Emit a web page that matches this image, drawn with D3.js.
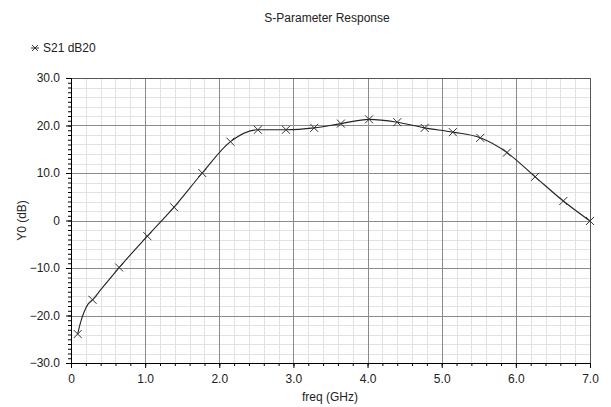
<!DOCTYPE html>
<html lang="en">
<head>
	<meta charset="UTF-8"/>
	<title>S-Parameter Response</title>
	<script src="https://d3js.org/d3.v7.min.js"></script>
	<style>
		body { margin: 0; background: #fff; }
		text { font-family: "Liberation Sans", Arial, sans-serif; }
		.tick text { font-size: 12px; fill: #222; }
		.grid-minor { stroke: #e2e2e2; stroke-width: 1; }
		.grid-major { stroke: #8a8a8a; stroke-width: 1; }
		.curve { fill: none; stroke: #222; stroke-width: 1.1; }
		.mark { stroke: #333; stroke-width: 1; }
	</style>
</head>
<body>
	<div id="chart"></div>
	<script>
	var w = 611;
	var h = 407;

	// marker points (GHz, dB)
	var markerFreq = [0.09, 0.29, 0.65, 1.03, 1.39, 1.77, 2.15, 2.52, 2.90, 3.28, 3.64, 4.02, 4.40, 4.77, 5.15, 5.52, 5.88, 6.26, 6.64, 7.0];
	var markerDb   = [-23.9, -16.7, -9.9, -3.3, 2.8, 10.0, 16.6, 19.1, 19.1, 19.5, 20.4, 21.3, 20.7, 19.5, 18.6, 17.4, 14.3, 9.2, 4.1, -0.1];

	// extra samples of the trace between the first markers
	var extraFreq = [0.13, 0.175, 0.23, 0.41];
	var extraDb   = [-21.4, -19.3, -17.6, -14.4];

	var xTicks = [0, 1, 2, 3, 4, 5, 6, 7];
	var yTicks = [-30, -20, -10, 0, 10, 20, 30];

	var svg = d3.select("#chart")
				.append("svg")
				.attr("width", w)
				.attr("height", h);

	var xScale = d3.scaleLinear().domain([0, 7]).range([71, 590]);
	var yScale = d3.scaleLinear().domain([-30, 30]).range([363, 78]);

	// minor grid
	svg.append("g").selectAll("line")
		.data(d3.range(0, 7.001, 0.2).filter(function(v){ return Math.abs(v - Math.round(v)) > 0.01; }))
		.enter().append("line")
		.attr("class", "grid-minor")
		.attr("x1", function(d){ return Math.round(xScale(d)) + 0.5; })
		.attr("x2", function(d){ return Math.round(xScale(d)) + 0.5; })
		.attr("y1", yScale(30)).attr("y2", yScale(-30));

	svg.append("g").selectAll("line")
		.data(d3.range(-30, 30.001, 2).filter(function(v){ return v % 10 != 0; }))
		.enter().append("line")
		.attr("class", "grid-minor")
		.attr("y1", function(d){ return Math.round(yScale(d)) + 0.5; })
		.attr("y2", function(d){ return Math.round(yScale(d)) + 0.5; })
		.attr("x1", xScale(0)).attr("x2", xScale(7));

	// major grid
	svg.append("g").selectAll("line")
		.data(xTicks.slice(1, -1))
		.enter().append("line")
		.attr("class", "grid-major")
		.attr("x1", function(d){ return Math.round(xScale(d)) + 0.5; })
		.attr("x2", function(d){ return Math.round(xScale(d)) + 0.5; })
		.attr("y1", yScale(30)).attr("y2", yScale(-30));

	svg.append("g").selectAll("line")
		.data(yTicks.slice(1, -1))
		.enter().append("line")
		.attr("class", "grid-major")
		.attr("y1", function(d){ return Math.round(yScale(d)) + 0.5; })
		.attr("y2", function(d){ return Math.round(yScale(d)) + 0.5; })
		.attr("x1", xScale(0)).attr("x2", xScale(7));

	// frame
	svg.append("rect")
		.attr("x", Math.round(xScale(0)) + 0.5)
		.attr("y", Math.round(yScale(30)) + 0.5)
		.attr("width", Math.round(xScale(7)) - Math.round(xScale(0)))
		.attr("height", Math.round(yScale(-30)) - Math.round(yScale(30)))
		.attr("fill", "none")
		.attr("stroke", "#555");

	function fmt(d){ return d == 0 ? "0" : d3.format(".1f")(d); }

	// axes
	var xMinor = d3.axisBottom(xScale).tickValues(d3.range(0, 7.001, 0.2)).tickSize(3).tickFormat("");
	var yMinor = d3.axisLeft(yScale).tickValues(d3.range(-30, 30.001, 1)).tickSize(3).tickFormat("");
	var xAxis = d3.axisBottom(xScale).tickValues(xTicks).tickSize(5).tickPadding(6).tickFormat(fmt);
	var yAxis = d3.axisLeft(yScale).tickValues(yTicks).tickSize(5).tickPadding(6).tickFormat(fmt);

	[xMinor, xAxis].forEach(function(a){
		svg.append("g")
			.attr("transform", "translate(0," + Math.round(yScale(-30)) + ")")
			.call(a)
			.call(function(g){ g.select(".domain").attr("stroke", "#000"); g.selectAll("text").attr("font-family", null); });
	});
	[yMinor, yAxis].forEach(function(a){
		svg.append("g")
			.attr("transform", "translate(" + Math.round(xScale(0)) + ",0)")
			.call(a)
			.call(function(g){ g.select(".domain").attr("stroke", "#000"); g.selectAll("text").attr("font-family", null); });
	});

	// trace
	var pts = markerFreq.map(function(f, i){ return [f, markerDb[i]]; })
		.concat(extraFreq.map(function(f, i){ return [f, extraDb[i]]; }))
		.sort(function(a, b){ return a[0] - b[0]; });

	var line = d3.line()
		.x(function(d){ return xScale(d[0]); })
		.y(function(d){ return yScale(d[1]); })
		.curve(d3.curveMonotoneX);

	svg.append("path")
		.datum(pts)
		.attr("class", "curve")
		.attr("d", line);

	svg.append("g").selectAll("path")
		.data(markerFreq)
		.enter().append("path")
		.attr("class", "mark")
		.attr("fill", "none")
		.attr("d", function(d, i){
			var x = xScale(d), y = yScale(markerDb[i]), s = 4;
			return "M" + (x - s) + "," + (y - s) + "L" + (x + s) + "," + (y + s) +
				"M" + (x - s) + "," + (y + s) + "L" + (x + s) + "," + (y - s);
		});

	// title, legend, axis labels
	svg.append("text")
		.attr("x", 327).attr("y", 22)
		.attr("text-anchor", "middle")
		.style("font-size", "12px")
		.attr("fill", "#222")
		.text("S-Parameter Response");

	var lg = svg.append("g").attr("transform", "translate(35,48)");
	lg.append("path")
		.attr("class", "mark")
		.attr("d", "M-4,0L4,0M-3,-3L3,3M-3,3L3,-3");
	lg.append("text")
		.attr("x", 8).attr("y", 4)
		.style("font-size", "12px")
		.attr("fill", "#222")
		.text("S21 dB20");

	svg.append("text")
		.attr("transform", "translate(26," + yScale(0) + ") rotate(-90)")
		.attr("text-anchor", "middle")
		.style("font-size", "12px")
		.attr("fill", "#222")
		.text("Y0 (dB)");

	svg.append("text")
		.attr("x", 330).attr("y", 401)
		.attr("text-anchor", "middle")
		.style("font-size", "12px")
		.attr("fill", "#222")
		.text("freq (GHz)");
	</script>
</body>
</html>
